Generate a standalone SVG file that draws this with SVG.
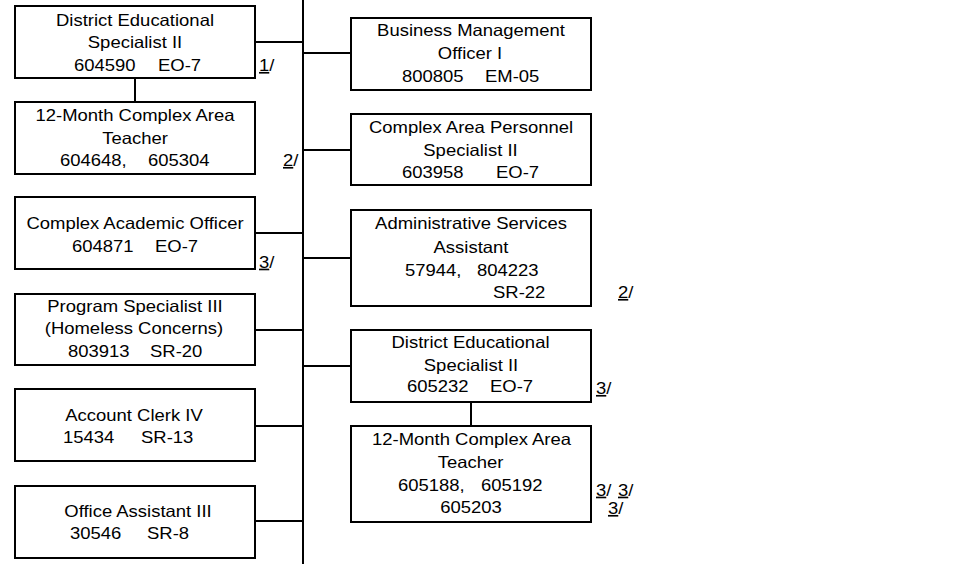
<svg xmlns="http://www.w3.org/2000/svg" width="968" height="564" viewBox="0 0 968 564">
<style>
.box{fill:#fff;stroke:#000;stroke-width:2}
.ln{stroke:#000;stroke-width:2;fill:none}
text{font-family:"Liberation Sans",Arial,sans-serif;font-size:16.5px;fill:#000}
.m{text-anchor:middle}
.u{text-decoration:underline}
</style>
<rect width="968" height="564" fill="#fff"/>
<g id="connectors">
<line class="ln" x1="303" y1="0" x2="303" y2="564"/>
<line class="ln" x1="255" y1="42" x2="303" y2="42"/>
<line class="ln" x1="255" y1="233" x2="303" y2="233"/>
<line class="ln" x1="255" y1="330" x2="303" y2="330"/>
<line class="ln" x1="255" y1="426" x2="303" y2="426"/>
<line class="ln" x1="255" y1="521" x2="303" y2="521"/>
<line class="ln" x1="303" y1="53" x2="351" y2="53"/>
<line class="ln" x1="303" y1="150" x2="351" y2="150"/>
<line class="ln" x1="303" y1="258" x2="351" y2="258"/>
<line class="ln" x1="303" y1="366" x2="351" y2="366"/>
<line class="ln" x1="135" y1="78" x2="135" y2="102"/>
<line class="ln" x1="471" y1="402" x2="471" y2="426"/>
</g>
<g id="n1">
<rect class="box" x="15" y="6" width="240" height="72"/>
<text class="m" transform="matrix(1.12 0 0 1 135 25.5)">District Educational</text>
<text class="m" transform="matrix(1.12 0 0 1 135 48)">Specialist II</text>
<text transform="matrix(1.12 0 0 1 74 71)">604590</text>
<text transform="matrix(1.12 0 0 1 158 71)">EO-7</text>
</g>
<g id="n2">
<rect class="box" x="15" y="102" width="240" height="72"/>
<text class="m" transform="matrix(1.12 0 0 1 135 121)">12-Month Complex Area</text>
<text class="m" transform="matrix(1.12 0 0 1 135 143.5)">Teacher</text>
<text transform="matrix(1.12 0 0 1 60 166)">604648,</text>
<text transform="matrix(1.12 0 0 1 148 166)">605304</text>
</g>
<g id="n3">
<rect class="box" x="15" y="197" width="240" height="72"/>
<text class="m" transform="matrix(1.12 0 0 1 135 229)">Complex Academic Officer</text>
<text transform="matrix(1.12 0 0 1 72 251.7)">604871</text>
<text transform="matrix(1.12 0 0 1 155 251.7)">EO-7</text>
</g>
<g id="n4">
<rect class="box" x="15" y="294" width="240" height="71"/>
<text class="m" transform="matrix(1.12 0 0 1 135 311.7)">Program Specialist III</text>
<text class="m" transform="matrix(1.12 0 0 1 134 334)">(Homeless Concerns)</text>
<text transform="matrix(1.12 0 0 1 68 356.7)">803913</text>
<text transform="matrix(1.12 0 0 1 150 356.7)">SR-20</text>
</g>
<g id="n5">
<rect class="box" x="15" y="389" width="240" height="72"/>
<text class="m" transform="matrix(1.12 0 0 1 134 420.7)">Account Clerk IV</text>
<text transform="matrix(1.12 0 0 1 63 442.7)">15434</text>
<text transform="matrix(1.12 0 0 1 141 442.7)">SR-13</text>
</g>
<g id="n6">
<rect class="box" x="15" y="486" width="240" height="72"/>
<text class="m" transform="matrix(1.12 0 0 1 138 516.7)">Office Assistant III</text>
<text transform="matrix(1.12 0 0 1 70 539.3)">30546</text>
<text transform="matrix(1.12 0 0 1 147 539.3)">SR-8</text>
</g>
<g id="r1">
<rect class="box" x="351" y="18" width="240" height="72"/>
<text class="m" transform="matrix(1.12 0 0 1 471 36)">Business Management</text>
<text class="m" transform="matrix(1.12 0 0 1 470 59.3)">Officer I</text>
<text transform="matrix(1.12 0 0 1 402 82)">800805</text>
<text transform="matrix(1.12 0 0 1 485 82)">EM-05</text>
</g>
<g id="r2">
<rect class="box" x="351" y="114" width="240" height="71"/>
<text class="m" transform="matrix(1.12 0 0 1 471 132.7)">Complex Area Personnel</text>
<text class="m" transform="matrix(1.12 0 0 1 470.5 155.7)">Specialist II</text>
<text transform="matrix(1.12 0 0 1 402 177.7)">603958</text>
<text transform="matrix(1.12 0 0 1 496 177.7)">EO-7</text>
</g>
<g id="r3">
<rect class="box" x="351" y="210" width="240" height="96"/>
<text class="m" transform="matrix(1.12 0 0 1 471 229.3)">Administrative Services</text>
<text class="m" transform="matrix(1.12 0 0 1 471 253.3)">Assistant</text>
<text transform="matrix(1.12 0 0 1 405 275.7)">57944,</text>
<text transform="matrix(1.12 0 0 1 477 275.7)">804223</text>
<text transform="matrix(1.12 0 0 1 493 297.7)">SR-22</text>
</g>
<g id="r4">
<rect class="box" x="351" y="330" width="240" height="72"/>
<text class="m" transform="matrix(1.12 0 0 1 470.5 348.3)">District Educational</text>
<text class="m" transform="matrix(1.12 0 0 1 471 371)">Specialist II</text>
<text transform="matrix(1.12 0 0 1 407 392.3)">605232</text>
<text transform="matrix(1.12 0 0 1 490 392.3)">EO-7</text>
</g>
<g id="r5">
<rect class="box" x="351" y="426" width="240" height="96"/>
<text class="m" transform="matrix(1.12 0 0 1 471.5 445)">12-Month Complex Area</text>
<text class="m" transform="matrix(1.12 0 0 1 470.5 468.3)">Teacher</text>
<text transform="matrix(1.12 0 0 1 398 490.7)">605188,</text>
<text transform="matrix(1.12 0 0 1 481 490.7)">605192</text>
<text class="m" transform="matrix(1.12 0 0 1 471 513.3)">605203</text>
</g>
<g id="notes">
<text transform="matrix(1.12 0 0 1 259 71)"><tspan class="u">1</tspan>/</text>
<text transform="matrix(1.12 0 0 1 283 166)"><tspan class="u">2</tspan>/</text>
<text transform="matrix(1.12 0 0 1 259 267.7)"><tspan class="u">3</tspan>/</text>
<text transform="matrix(1.12 0 0 1 618 298)"><tspan class="u">2</tspan>/</text>
<text transform="matrix(1.12 0 0 1 596 394)"><tspan class="u">3</tspan>/</text>
<text transform="matrix(1.12 0 0 1 596 495.7)"><tspan class="u">3</tspan>/</text>
<text transform="matrix(1.12 0 0 1 618 495.7)"><tspan class="u">3</tspan>/</text>
<text transform="matrix(1.12 0 0 1 608 514)"><tspan class="u">3</tspan>/</text>
</g>
</svg>
